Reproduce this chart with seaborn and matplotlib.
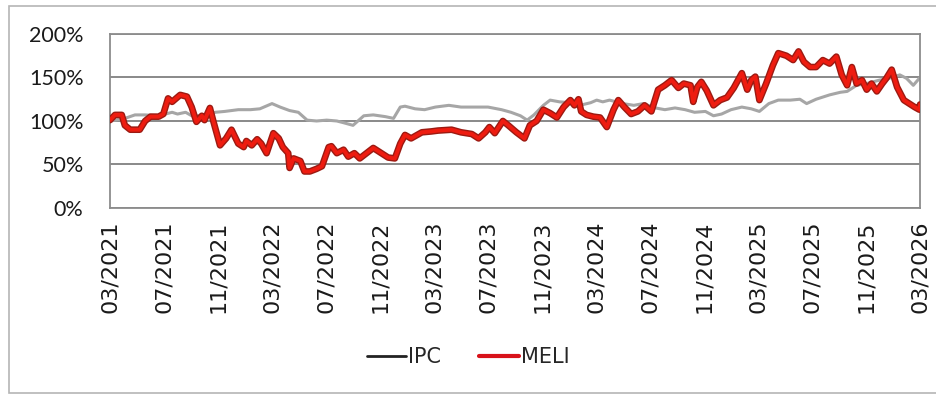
import pandas as pd
import seaborn as sns
import matplotlib.pyplot as plt
import matplotlib.patheffects as pe
from matplotlib.lines import Line2D
from matplotlib.patches import Rectangle

# %% Data (x = months since 03/2021, y = index in %)
ipc_t = [0, 1.1, 1.85, 2.6, 3.6, 4.6, 5.0, 5.6, 6.05, 7.0,
         7.8, 8.5, 9.5, 10.4, 11.1, 12.0, 12.6, 13.3, 13.95, 14.6,
         15.3, 16.05, 16.8, 17.3, 18.0, 18.8, 19.5, 20.4, 21.0, 21.5,
         21.85, 22.6, 23.3, 24.1, 25.1, 26.0, 27.0, 28.0, 29.0, 29.7,
         30.4, 30.9, 31.4, 32.1, 32.6, 33.3, 34.1, 34.8, 35.6, 36.05,
         36.5, 37.0, 37.5, 38.0, 38.8, 39.5, 40.4, 41.1, 41.85, 42.6,
         43.3, 44.1, 44.7, 45.3, 46.0, 46.8, 47.5, 48.1, 48.8, 49.5,
         50.4, 51.1, 51.6, 52.3, 53.3, 54.1, 54.6, 55.3, 56.05, 57.0,
         57.7, 58.5, 59.0, 59.5, 60]
ipc_v = [100, 103, 107, 107, 106, 110, 108, 110, 106, 106,
         110, 111, 113, 113, 114, 120, 116, 112, 110, 101,
         100, 101, 100, 98, 95, 106, 107, 105, 103, 116,
         117, 114, 113, 116, 118, 116, 116, 116, 113, 110,
         106, 101, 107, 118, 124, 122, 121, 118, 121, 124,
         122, 124, 122, 120, 118, 120, 115, 113, 115, 113,
         110, 111, 106, 108, 113, 116, 114, 111, 120, 124,
         124, 125, 120, 125, 130, 133, 134, 141, 143, 147,
         149, 153, 149, 141, 150]

meli_t = [0, 0.37, 0.87, 1.1, 1.5, 2.2, 2.6, 3.0, 3.6, 3.95,
          4.3, 4.6, 5.2, 5.7, 6.05, 6.4, 6.8, 7.0, 7.4, 7.65,
          8.15, 8.6, 9.0, 9.5, 9.9, 10.1, 10.5, 10.9, 11.2, 11.6,
          12.1, 12.5, 12.8, 13.2, 13.3, 13.6, 14.1, 14.4, 14.8, 15.3,
          15.7, 16.2, 16.4, 16.8, 17.3, 17.65, 18.1, 18.5, 19.0, 19.5,
          20.1, 20.6, 21.1, 21.5, 21.85, 22.3, 23.1, 23.8, 24.3, 25.3,
          26.0, 26.8, 27.3, 27.8, 28.1, 28.5, 29.1, 29.5, 30.1, 30.7,
          31.1, 31.6, 32.1, 32.6, 33.1, 33.6, 34.1, 34.4, 34.7, 34.9,
          35.3, 35.8, 36.3, 36.8, 37.3, 37.65, 38.1, 38.6, 39.1, 39.6,
          40.1, 40.6, 41.1, 41.6, 42.1, 42.5, 43.0, 43.2, 43.5, 43.8,
          44.2, 44.7, 45.2, 45.7, 46.2, 46.8, 47.2, 47.5, 47.8, 48.1,
          48.6, 49.1, 49.5, 50.1, 50.6, 51.0, 51.4, 51.85, 52.3, 52.8,
          53.3, 53.8, 54.2, 54.6, 54.95, 55.3, 55.7, 56.05, 56.4, 56.8,
          57.2, 57.5, 57.9, 58.3, 58.8, 59.3, 59.6, 59.95, 60]
meli_v = [101, 107, 107, 95, 90, 90, 100, 105, 105, 108,
          126, 122, 130, 128, 116, 99, 106, 101, 115, 100,
          72, 80, 90, 74, 70, 77, 72, 79, 74, 63,
          86, 80, 70, 63, 46, 57, 54, 42, 42, 45,
          48, 70, 71, 63, 67, 59, 63, 57, 63, 69,
          63, 58, 57, 74, 84, 80, 87, 88, 89, 90,
          87, 85, 80, 87, 93, 86, 100, 95, 87, 80,
          95, 100, 113, 109, 104, 116, 124, 118, 125, 111,
          107, 105, 104, 93, 113, 124, 116, 108, 111, 118,
          111, 136, 141, 147, 138, 143, 141, 122, 139, 145,
          135, 118, 124, 127, 138, 155, 136, 147, 151, 124,
          143, 164, 178, 175, 170, 180, 168, 162, 162, 170,
          166, 174, 153, 141, 162, 143, 147, 136, 143, 134,
          143, 149, 159, 139, 124, 119, 116, 113, 119]

x_ticks = list(range(0, 61, 4))
x_labels = ["03/2021", "07/2021", "11/2021", "03/2022", "07/2022", "11/2022",
            "03/2023", "07/2023", "11/2023", "03/2024", "07/2024", "11/2024",
            "03/2025", "07/2025", "11/2025", "03/2026"]
y_ticks = [0, 50, 100, 150, 200]

ipc = pd.DataFrame({"t": ipc_t, "v": ipc_v})
meli = pd.DataFrame({"t": meli_t, "v": meli_v})

# %% Plot
sns.set_style("white")
fig = plt.figure(figsize=(9.37, 3.98), dpi=100)
ax = fig.add_axes([0.1174, 0.4774, 0.8645, 0.4372])

sns.lineplot(data=ipc, x="t", y="v", ax=ax, color="#a6a6a6", lw=2.2, zorder=2)
sns.lineplot(data=meli, x="t", y="v", ax=ax, color="#ee1c10", lw=2.8, zorder=3,
             path_effects=[pe.Stroke(linewidth=4.8, foreground="#9c1a12"), pe.Normal()])

ax.set_xlim(0, 60)
ax.set_ylim(0, 200)
ax.set_xlabel("")
ax.set_ylabel("")
ax.set_xticks(x_ticks)
ax.set_xticklabels(x_labels, rotation=90, fontsize=16, family="DejaVu Sans", color="#1a1a1a")
ax.set_yticks(y_ticks)
ax.set_yticklabels([f"{v}%" for v in y_ticks], fontsize=15.5, family="Lato", color="#1a1a1a")
ax.tick_params(axis="x", length=0, pad=9)
ax.tick_params(axis="y", length=0, pad=19)

ax.yaxis.grid(True, color="#808080", lw=1.3)
ax.xaxis.grid(False)
ax.set_axisbelow(True)
for s in ax.spines.values():
    s.set_color("#8c8c8c")
    s.set_linewidth(1.3)

# legend (Excel-style: dark handle for IPC)
handles = [Line2D([], [], color="#222222", lw=2),
           Line2D([], [], color="#d8121a", lw=3)]
fig.legend(handles, ["IPC", "MELI"], loc="center", bbox_to_anchor=(468 / 937, 1 - 357 / 398),
           ncol=2, frameon=False, handlelength=1.9, handletextpad=0.1, columnspacing=1.8,
           prop={"family": ["Liberation Sans Narrow", "DejaVu Sans"], "size": 15})

# outer chart border
fig.add_artist(Rectangle((0.0096, 0.012), 0.99, 0.974, transform=fig.transFigure,
                         fill=False, ec="#b5b5b5", lw=1.2))

fig.savefig("out.png", dpi=100)
